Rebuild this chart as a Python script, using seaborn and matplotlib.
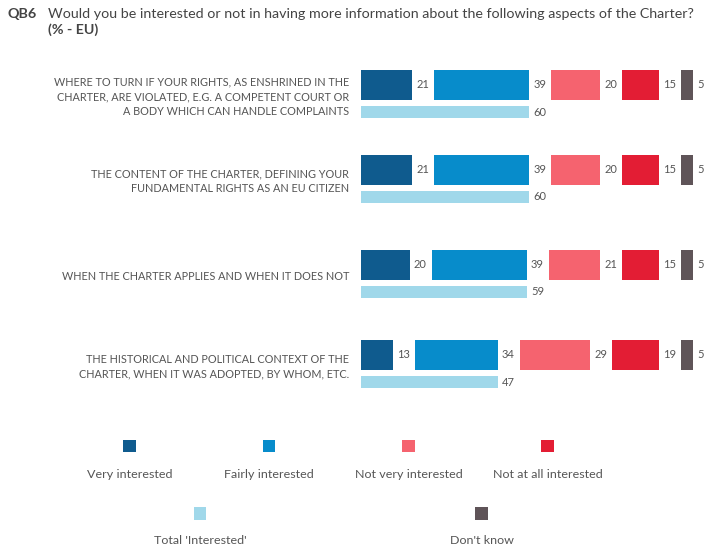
import matplotlib
matplotlib.use('Agg')
import matplotlib.pyplot as plt
import seaborn as sns
from matplotlib.patches import Rectangle

# dados
aspects = [
    "WHERE TO TURN IF YOUR RIGHTS, AS ENSHRINED IN THE\nCHARTER, ARE VIOLATED, E.G. A COMPETENT COURT OR\nA BODY WHICH CAN HANDLE COMPLAINTS",
    "THE CONTENT OF THE CHARTER, DEFINING YOUR\nFUNDAMENTAL RIGHTS AS AN EU CITIZEN",
    "WHEN THE CHARTER APPLIES AND WHEN IT DOES NOT",
    "THE HISTORICAL AND POLITICAL CONTEXT OF THE\nCHARTER, WHEN IT WAS ADOPTED, BY WHOM, ETC.",
]
very = [21, 21, 20, 13]
fairly = [39, 39, 39, 34]
not_very = [20, 20, 21, 29]
not_at_all = [15, 15, 15, 19]
dont_know = [5, 5, 5, 5]
total_interested = [60, 60, 59, 47]

series_names = ['Very interested', 'Fairly interested', 'Not very interested',
                'Not at all interested', "Total 'Interested'", "Don't know"]
colors = ['#0f5b8e', '#078ccb', '#f5636f', '#e31d34', '#a0d8ea', '#5f5458']

sns.set_theme(style='white')
plt.rcParams['font.family'] = ['Lato', 'DejaVu Sans']
txt = '#555555'

W, H = 715, 556
fig = plt.figure(figsize=(W / 100, H / 100), dpi=100)
renderer = fig.canvas.get_renderer()


def fit(t, target):
    # ajusta o tamanho da fonte para a largura medida na figura original
    w = t.get_window_extent(renderer).width
    t.set_fontsize(t.get_fontsize() * target / w)
    return t.get_fontsize()


x0 = 361
px_unit = 2.44
gap = 22 / px_unit
ax = fig.add_axes([x0 / W, 0, 1 - x0 / W, 1])
ax.set_xlim(0, (W - x0) / px_unit)
ax.set_ylim(H, 0)
ax.axis('off')

row_y = [85, 169.5, 264.5, 355]
tot_off = 27
main_h = 30
tot_h = 12

segments = [very, fairly, not_very, not_at_all, dont_know]
seg_colors = [colors[0], colors[1], colors[2], colors[3], colors[5]]

cat_size = None
for i, y in enumerate(row_y):
    left = 0
    for vals, c in zip(segments, seg_colors):
        v = vals[i]
        ax.barh(y, v, left=left, height=main_h, color=c, linewidth=0)
        ax.text(left + v + 4 / px_unit, y, str(v), va='center', ha='left',
                fontsize=8, color=txt)
        left += v + gap
    # total bar spans the first two segments and the gap between them
    tw = total_interested[i] + gap
    ax.barh(y + tot_off, tw, left=0, height=tot_h, color=colors[4], linewidth=0)
    ax.text(tw + 4 / px_unit, y + tot_off, str(total_interested[i]), va='center',
            ha='left', fontsize=8, color=txt)
    t = fig.text(349 / W, 1 - (y + tot_off / 2 - 2) / H, aspects[i], ha='right',
                 va='center', fontsize=8, color=txt, linespacing=1.4)
    if cat_size is None:
        cat_size = fit(t, 295)
    else:
        t.set_fontsize(cat_size)

# title
t = fig.text(48 / W, 1 - 14 / H,
             'Would you be interested or not in having more information about the following aspects of the Charter?',
             fontsize=10.5, color='#444444', va='center', ha='left')
title_size = fit(t, 652)
fig.text(8 / W, 1 - 14 / H, 'QB6', fontsize=title_size, fontweight='bold',
         color='#444444', va='center', ha='left')
fig.text(48 / W, 1 - 30 / H, '(% - EU)', fontsize=title_size, fontweight='bold',
         color='#444444', va='center', ha='left')

# legend
leg_pos = [(129.5, 446, 474), (269, 446, 474), (408.5, 446, 474), (547.5, 446, 474),
           (200, 513.5, 540), (481.5, 513.5, 540)]
sq = 12.5
leg_size = None
for name, c, (lx, sy, ty) in zip(series_names, colors, leg_pos):
    fig.add_artist(Rectangle(((lx - sq / 2) / W, 1 - (sy + sq / 2) / H), sq / W, sq / H,
                             transform=fig.transFigure, color=c, linewidth=0))
    t = fig.text(lx / W, 1 - ty / H, name, ha='center', va='center', fontsize=10,
                 color=txt)
    if leg_size is None:
        leg_size = fit(t, 85)
    else:
        t.set_fontsize(leg_size)

plt.savefig('out.png', dpi=100)
